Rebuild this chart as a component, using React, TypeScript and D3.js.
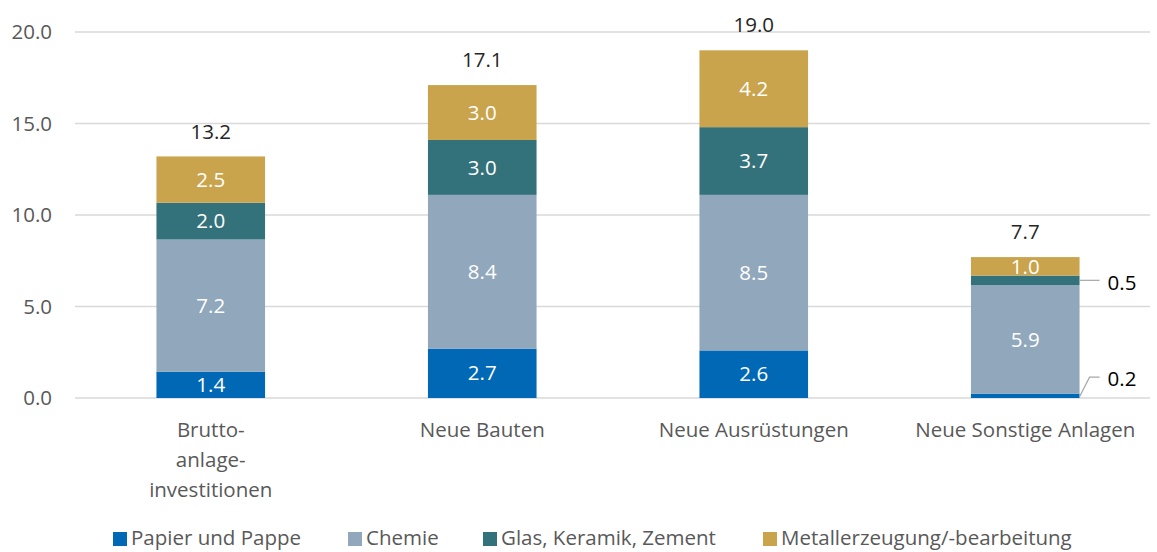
import React from 'react';
import * as d3 from 'd3';

const categories = ['Brutto-\nanlage-\ninvestitionen', 'Neue Bauten', 'Neue Ausrüstungen', 'Neue Sonstige Anlagen'];
const seriesNames = ['Papier und Pappe', 'Chemie', 'Glas, Keramik, Zement', 'Metallerzeugung/-bearbeitung'];
const papier = [1.44, 2.7, 2.6, 0.24];
const chemie = [7.22, 8.4, 8.5, 5.93];
const glas = [2.01, 3.0, 3.7, 0.52];
const metall = [2.53, 3.0, 4.2, 1.01];
const yTicks = [0, 5, 10, 15, 20];
const colors = ['#0068b4', '#91a7bc', '#33727b', '#c9a44c'];

const W = 1157;
const H = 552;
const font = '"Open Sans", Lato, sans-serif';
const fs = 20.5;

export default function App()
{
    const series = [papier, chemie, glas, metall];
    const rows = categories.map((c, i) => ({
        cat: c,
        s0: papier[i], s1: chemie[i], s2: glas[i], s3: metall[i]
    }));
    const stack = d3.stack<any>().keys(['s0', 's1', 's2', 's3'])(rows);

    const x = d3.scaleBand().domain(categories).range([75, 1161]).paddingInner(0.6).paddingOuter(0.3);
    const y = d3.scaleLinear().domain([0, 20]).range([398, 32]);
    const bw = x.bandwidth();

    const grid = yTicks.map((t) => (
        <g key={t}>
            <line x1={75} x2={1150} y1={y(t)} y2={y(t)} stroke="#d9d9d9" strokeWidth={1.5}/>
            <text x={52} y={y(t)} dy="0.35em" textAnchor="end" fontSize={fs} fill="#595959">{t.toFixed(1)}</text>
        </g>
    ));

    const bars = stack.map((layer, si) => layer.map((d, i) => {
        const x0 = x(categories[i]) as number;
        const y0 = y(d[1]);
        const h = y(d[0]) - y(d[1]);
        const v = series[si][i];
        const small = v < 0.8;
        return (
            <g key={si + '-' + i}>
                <rect x={x0} y={y0} width={bw} height={h} fill={colors[si]}/>
                {!small && (
                    <text x={x0 + bw / 2} y={y0 + h / 2} dy="0.35em" textAnchor="middle" fontSize={fs} fill="#fff">{v.toFixed(1)}</text>
                )}
            </g>
        );
    }));

    // callouts for thin segments of the last bar
    const lastI = 3;
    const lx = (x(categories[lastI]) as number) + bw;
    const glasMid = y((stack[2][lastI][0] + stack[2][lastI][1]) / 2);
    const papMid = y((stack[0][lastI][0] + stack[0][lastI][1]) / 2);
    const callouts = (
        <g>
            <line x1={lx} x2={lx + 20} y1={glasMid} y2={glasMid} stroke="#a6a6a6" strokeWidth={1.2}/>
            <text x={lx + 28} y={glasMid + 2} dy="0.35em" fontSize={fs} fill="#000">{glas[lastI].toFixed(1)}</text>
            <polyline points={`${lx},${papMid + 1} ${lx + 10},${y(1.14)} ${lx + 20},${y(1.14)}`} fill="none" stroke="#a6a6a6" strokeWidth={1.2}/>
            <text x={lx + 28} y={y(1.14) + 2} dy="0.35em" fontSize={fs} fill="#000">{papier[lastI].toFixed(1)}</text>
        </g>
    );

    const totals = categories.map((c, i) => {
        const t = series.reduce((a, s) => a + s[i], 0);
        return (
            <text key={c} x={(x(c) as number) + bw / 2} y={y(t) - 25} dy="0.35em" textAnchor="middle" fontSize={fs} fill="#262626">{t.toFixed(1)}</text>
        );
    });

    const catLabels = categories.map((c) => (
        <text key={c} x={(x(c) as number) + bw / 2} y={430} textAnchor="middle" fontSize={fs} fill="#595959">
            {c.split('\n').map((ln, k) => (
                <tspan key={k} x={(x(c) as number) + bw / 2} dy={k === 0 ? '0.35em' : 30}>{ln}</tspan>
            ))}
        </text>
    ));

    const legendX = [113, 348, 483, 763];
    const legend = seriesNames.map((n, i) => (
        <g key={n} transform={`translate(${legendX[i]},538)`}>
            <rect x={0} y={-6} width={14} height={14} fill={colors[i]}/>
            <text x={18} y={0} dy="0.35em" fontSize={fs} fill="#595959">{n}</text>
        </g>
    ));

    return (
        <svg width={W} height={H} style={{position: 'absolute', left: 0, top: 0, background: '#fff'}} fontFamily={font}>
            {grid}
            {bars}
            {callouts}
            {totals}
            {catLabels}
            {legend}
        </svg>
    );
}
